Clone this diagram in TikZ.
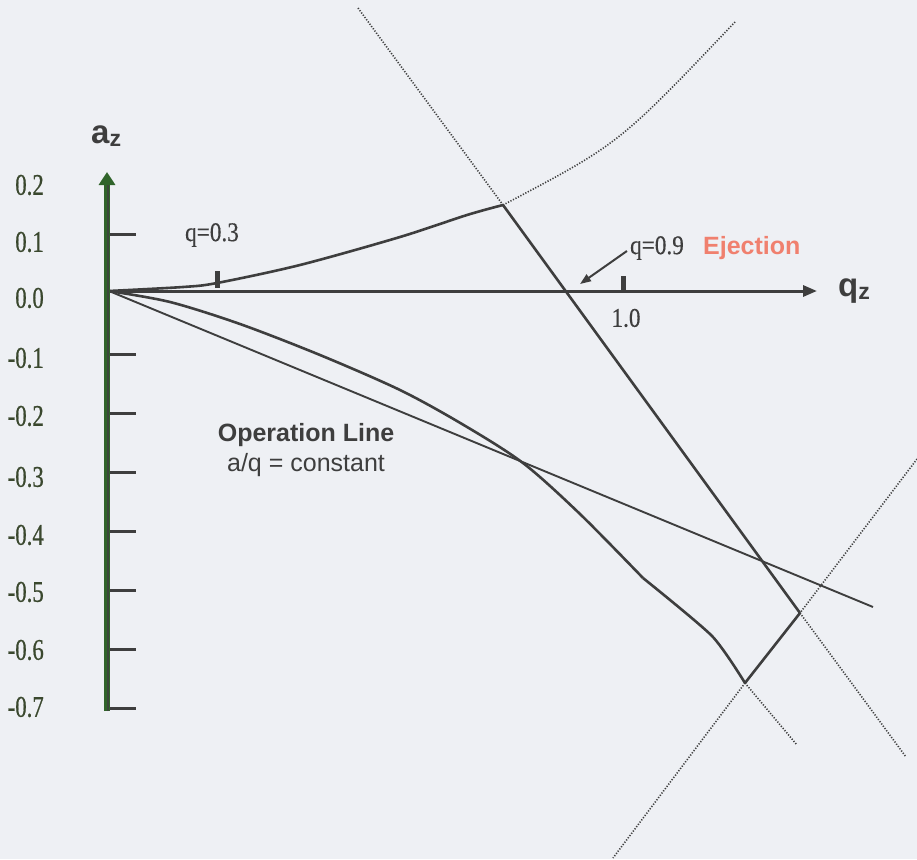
\documentclass[tikz,border=0pt]{standalone}
\usepackage{fontspec}
\setmainfont{Liberation Serif}
\setsansfont{Liberation Sans}
\newfontfamily\condserif{Liberation Serif}[FakeStretch=0.76, FakeBold=0.6]
\newfontfamily\medserif{Liberation Serif}[FakeStretch=0.86, FakeBold=0.4]
\usetikzlibrary{arrows.meta}
\definecolor{bgc}{RGB}{238,240,244}
\definecolor{inkc}{RGB}{62,62,62}
\definecolor{axgreen}{RGB}{48,100,42}
\definecolor{labc}{RGB}{58,72,46}
\definecolor{ejc}{RGB}{240,128,110}
\tikzset{
  curve/.style={draw=inkc, line width=2.6pt, line join=round},
  thinline/.style={draw=inkc, line width=1.9pt},
  dotline/.style={draw=inkc, line width=1.6pt, dash pattern=on 1.2pt off 1.6pt},
  ticklab/.style={anchor=east, text=labc, font=\condserif\fontsize{30}{32}\selectfont, inner sep=0pt},
  tickmark/.style={draw=inkc, line width=3pt},
  serlab/.style={text=inkc, font=\medserif\fontsize{27}{29}\selectfont, inner sep=0pt},
  boldsans/.style={font=\sffamily\bfseries\fontsize{25}{28}\selectfont, inner sep=0pt},
}
\begin{document}
\begin{tikzpicture}[x=1pt,y=-1pt]
\fill[bgc] (0,0) rectangle (917,859);
\useasboundingbox (0,0) rectangle (917,859);

% key points
\coordinate (O) at (109,291);
\coordinate (apex) at (503,205);
\coordinate (vR) at (800,613);
\coordinate (vB) at (745,683);
\coordinate (kink) at (643,578);
\coordinate (steepTop) at (358,8);
\coordinate (steepBot) at (906,757);
\coordinate (crossTop) at (917,459);
\coordinate (crossBot) at (613,858);
\coordinate (lowEnd) at (797,745);
\coordinate (upEnd) at (735,22);
\coordinate (opEnd) at (873,607);

% operation line
\draw[thinline] (O) -- (opEnd);

% upper stability boundary (solid and dotted)
\draw[curve] plot[smooth, tension=0.5] coordinates {(109,291) (183,287) (217,283) (300,265) (400,237) (467,215) (503,205)};
\draw[dotline] (apex) .. controls (619,144) .. (upEnd);

% lower boundary
\draw[curve] plot[smooth, tension=0.5] coordinates {(109,291) (170,302) (240,324) (320,355) (400,390) (462,424) (523,463) (580,514) (643,578)};
\draw[curve] plot[smooth, tension=0.4] coordinates {(643,578) (712,636) (745,683)};
\draw[dotline] (vB) -- (lowEnd);

% steep boundary
\draw[dotline] (steepTop) -- (apex);
\draw[curve] (apex) -- (vR);
\draw[dotline] (vR) -- (steepBot);

% cross boundary
\draw[dotline] (crossTop) -- (vR);
\draw[curve] (vR) -- (vB);
\draw[dotline] (vB) -- (crossBot);

% horizontal axis
\coordinate (xTip) at (817,291);
\draw[draw=inkc, line width=3pt, -{Triangle[width=11pt,length=14pt]}] (O) -- (xTip);

% vertical axis
\coordinate (yTop) at (107,172);
\coordinate (yBot) at (107,711);
\draw[draw=axgreen, line width=6pt, -{Triangle[width=16pt,length=13pt]}] (yBot) -- (yTop);
\draw[draw=inkc!80!axgreen, line width=2.5pt] (108,711) -- (108,185);

% y ticks and labels
\foreach \yy/\yl/\lab/\nm in {234/242/0.1/t1, 291/298/0.0/t0, 354/358/-0.1/tm1, 413/416/-0.2/tm2, 472/477/-0.3/tm3, 531/535/-0.4/tm4, 590/592/-0.5/tm5, 649/650/-0.6/tm6, 708/707/-0.7/tm7}{
  \draw[tickmark] (110,\yy) -- (136,\yy);
  \node[ticklab] (\nm) at (44,\yl) {\lab};
}
\node[ticklab] (t2) at (44,185) {0.2};

% q ticks
\draw[draw=inkc, line width=5pt] (217,271) -- (217,288);
\draw[draw=inkc, line width=5pt] (623,276) -- (623,290);

% labels
\node[serlab] (q03) at (212,235) {q=0.3};
\node[serlab] (q09) at (657,248) {q=0.9};
\node[serlab] (one) at (626,318) {1.0};
\node[boldsans, text=ejc, anchor=west] (ej) at (703,248) {Ejection};
\coordinate (arrTip) at (580,284);
\draw[draw=inkc, line width=2pt, -{Triangle[width=8pt,length=11pt]}] (q09.west) ++(-3,3) coordinate (arrStart) -- (arrTip);

\node[boldsans, text=inkc] (opl) at (306,435) {Operation Line};
\node[font=\sffamily\fontsize{25}{28}\selectfont, text=inkc, inner sep=0pt] (opc) at (306,465) {a/q = constant};

\node[font=\sffamily\bfseries\fontsize{33}{36}\selectfont, text=inkc, inner sep=0pt, anchor=base west] (az) at (91,143) {a\textsubscript{z}};
\node[font=\sffamily\bfseries\fontsize{33}{36}\selectfont, text=inkc, inner sep=0pt, anchor=base west] (qz) at (838,296) {q\textsubscript{z}};
\end{tikzpicture}
\end{document}
